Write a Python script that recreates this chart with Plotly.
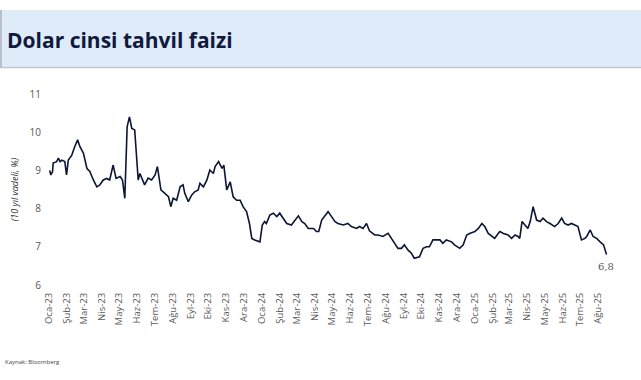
import plotly.graph_objects as go

# ---------------- data ----------------
dates = [
    "2023-01-02", "2023-01-04", "2023-01-07", "2023-01-08", "2023-01-14", "2023-01-17", "2023-01-20",
    "2023-01-23", "2023-01-28", "2023-01-31", "2023-02-03", "2023-02-09", "2023-02-14", "2023-02-19",
    "2023-02-23", "2023-03-01", "2023-03-07", "2023-03-12", "2023-03-18", "2023-03-24", "2023-03-29",
    "2023-04-04", "2023-04-10", "2023-04-15", "2023-04-21", "2023-04-26", "2023-05-03", "2023-05-07",
    "2023-05-11", "2023-05-15", "2023-05-19", "2023-05-23", "2023-05-28", "2023-06-03", "2023-06-06",
    "2023-06-12", "2023-06-14", "2023-06-20", "2023-06-26", "2023-07-02", "2023-07-06", "2023-07-12",
    "2023-07-19", "2023-07-25", "2023-07-29", "2023-08-02", "2023-08-08", "2023-08-14", "2023-08-19",
    "2023-08-22", "2023-08-28", "2023-09-03", "2023-09-08", "2023-09-14", "2023-09-17", "2023-09-23",
    "2023-09-29", "2023-10-04", "2023-10-10", "2023-10-13", "2023-10-19", "2023-10-25", "2023-10-28",
    "2023-11-02", "2023-11-08", "2023-11-13", "2023-11-19", "2023-11-25", "2023-11-30", "2023-12-06",
    "2023-12-11", "2023-12-15", "2023-12-20", "2023-12-29", "2024-01-02", "2024-01-06", "2024-01-09",
    "2024-01-15", "2024-01-21", "2024-01-27", "2024-02-01", "2024-02-07", "2024-02-13", "2024-02-21",
    "2024-02-27", "2024-03-04", "2024-03-10", "2024-03-15", "2024-03-21", "2024-03-30", "2024-04-04",
    "2024-04-08", "2024-04-13", "2024-04-19", "2024-04-24", "2024-04-30", "2024-05-06", "2024-05-11",
    "2024-05-20", "2024-05-28", "2024-06-03", "2024-06-12", "2024-06-17", "2024-06-23", "2024-06-29",
    "2024-07-04", "2024-07-10", "2024-07-13", "2024-07-19", "2024-07-27", "2024-08-05", "2024-08-11",
    "2024-08-16", "2024-08-22", "2024-08-28", "2024-09-02", "2024-09-08", "2024-09-14", "2024-09-19",
    "2024-09-28", "2024-10-04", "2024-10-10", "2024-10-15", "2024-10-21", "2024-10-27", "2024-11-02",
    "2024-11-07", "2024-11-13", "2024-11-22", "2024-11-27", "2024-12-06", "2024-12-12", "2024-12-18",
    "2024-12-23", "2025-01-01", "2025-01-07", "2025-01-13", "2025-01-18", "2025-01-24", "2025-01-30",
    "2025-02-04", "2025-02-10", "2025-02-13", "2025-02-19", "2025-02-27", "2025-03-05", "2025-03-11",
    "2025-03-16", "2025-03-19", "2025-03-23", "2025-03-28", "2025-04-02", "2025-04-06", "2025-04-11",
    "2025-04-17", "2025-04-23", "2025-04-28", "2025-05-04", "2025-05-10", "2025-05-18", "2025-05-24",
    "2025-05-30", "2025-06-04", "2025-06-10", "2025-06-16", "2025-06-22", "2025-06-27", "2025-07-03",
    "2025-07-09", "2025-07-12", "2025-07-18", "2025-07-23", "2025-07-29", "2025-08-04", "2025-08-10",
    "2025-08-15",
]
yields = [
    9.00, 8.88, 8.97, 9.19, 9.23, 9.32, 9.23,
    9.27, 9.23, 8.88, 9.27, 9.40, 9.62, 9.80,
    9.62, 9.45, 9.05, 8.97, 8.75, 8.57, 8.62,
    8.75, 8.79, 8.75, 9.14, 8.79, 8.84, 8.75,
    8.27, 10.14, 10.40, 10.10, 10.06, 8.75, 8.92,
    8.68, 8.62, 8.80, 8.75, 8.88, 9.10, 8.49,
    8.40, 8.31, 8.05, 8.27, 8.22, 8.57, 8.62,
    8.40, 8.18, 8.36, 8.44, 8.49, 8.66, 8.57,
    8.75, 9.01, 8.92, 9.10, 9.23, 9.05, 9.14,
    8.49, 8.70, 8.31, 8.22, 8.22, 8.05, 7.92,
    7.61, 7.22, 7.18, 7.13, 7.57, 7.66, 7.61,
    7.83, 7.88, 7.79, 7.88, 7.75, 7.61, 7.57,
    7.70, 7.81, 7.66, 7.61, 7.48, 7.48, 7.40,
    7.40, 7.70, 7.83, 7.92, 7.79, 7.66, 7.61,
    7.57, 7.61, 7.53, 7.48, 7.53, 7.48, 7.61,
    7.42, 7.35, 7.31, 7.31, 7.27, 7.35, 7.22,
    7.09, 6.96, 6.96, 7.05, 6.92, 6.83, 6.70,
    6.74, 6.96, 7.00, 7.00, 7.18, 7.18, 7.18,
    7.09, 7.18, 7.13, 7.05, 6.96, 7.05, 7.31,
    7.35, 7.40, 7.48, 7.61, 7.53, 7.35, 7.27,
    7.22, 7.35, 7.40, 7.35, 7.31, 7.22, 7.31,
    7.27, 7.22, 7.66, 7.57, 7.48, 7.66, 8.05,
    7.70, 7.66, 7.75, 7.66, 7.61, 7.53, 7.61,
    7.75, 7.61, 7.57, 7.61, 7.57, 7.53, 7.18,
    7.22, 7.27, 7.44, 7.27, 7.22, 7.13, 7.05,
    6.80,
]
months_tr = ["Oca", "Şub", "Mar", "Nis", "May", "Haz", "Tem", "Ağu", "Eyl", "Eki", "Kas", "Ara"]
tick_dates = [f"{y}-{m:02d}-01" for y in (2023, 2024, 2025) for m in range(1, 13)
              if (y, m) <= (2025, 8)]
tick_labels = [f"{months_tr[int(d[5:7]) - 1]}-{d[2:4]}" for d in tick_dates]
y_ticks = [6, 7, 8, 9, 10, 11]
last_label = "6,8"

title_text = "Dolar cinsi tahvil faizi"
y_title = "(10 yıl vadeli, %)"
source_text = "Kaynak: Bloomberg"

# ---------------- layout geometry ----------------
W, H = 641, 380
ML, MR, MT, MB = 45, 31, 94, 95
PW, PH = W - ML - MR, H - MT - MB


def px(x):
    return (x - ML) / PW


def py(y):
    return (H - MB - y) / PH


gray = "#595959"

fig = go.Figure()
fig.add_trace(go.Scatter(
    x=dates, y=yields, mode="lines",
    line=dict(color="#0b1535", width=1.6),
    hoverinfo="skip", showlegend=False,
))

fig.add_annotation(
    x=dates[-1], y=yields[-1], text=last_label, showarrow=False,
    xanchor="center", yanchor="top", yshift=-5, xshift=-1,
    font=dict(family="DejaVu Serif", size=10, color=gray),
)

shapes = [
    dict(type="rect", xref="paper", yref="paper",
         x0=px(0), x1=px(W), y0=py(67), y1=py(10),
         fillcolor="#e0ebfa", line=dict(width=0), layer="below"),
    dict(type="line", xref="paper", yref="paper",
         x0=px(0), x1=px(W), y0=py(67.5), y1=py(67.5),
         line=dict(color="#c4c8ce", width=1.5)),
    dict(type="line", xref="paper", yref="paper",
         x0=px(1), x1=px(1), y0=py(67), y1=py(10),
         line=dict(color="#b8c0cc", width=2)),
]

annotations = [
    dict(xref="paper", yref="paper", x=px(5), y=py(40), text=f"<b>{title_text}</b>",
         showarrow=False, xanchor="left", yanchor="middle",
         font=dict(family="Open Sans", size=21, color="#0f1a3c")),
    dict(xref="paper", yref="paper", x=px(3), y=py(362), text=source_text,
         showarrow=False, xanchor="left", yanchor="middle",
         font=dict(family="Open Sans", size=6, color="#444444")),
]

fig.update_layout(
    width=W, height=H,
    margin=dict(l=ML, r=MR, t=MT, b=MB, pad=0),
    paper_bgcolor="white", plot_bgcolor="white",
    shapes=shapes, annotations=list(fig.layout.annotations) + annotations,
    xaxis=dict(
        type="date", range=["2022-12-25", "2025-08-21"],
        tickmode="array", tickvals=tick_dates, ticktext=tick_labels,
        tickangle=-90, showgrid=False, zeroline=False, showline=False,
        ticks="", ticklen=0, ticklabelstandoff=5,
        tickfont=dict(family="Open Sans", size=9.5, color=gray),
    ),
    yaxis=dict(
        range=[6, 11], tickmode="array", tickvals=y_ticks,
        showgrid=False, zeroline=False, showline=False, ticks="",
        ticklabelstandoff=3,
        tickfont=dict(family="Open Sans", size=10, color=gray),
        title=dict(text=f"<i>{y_title}</i>", standoff=9,
                   font=dict(family="Open Sans", size=9, color="#333333")),
    ),
)

fig.write_html("out.html")
